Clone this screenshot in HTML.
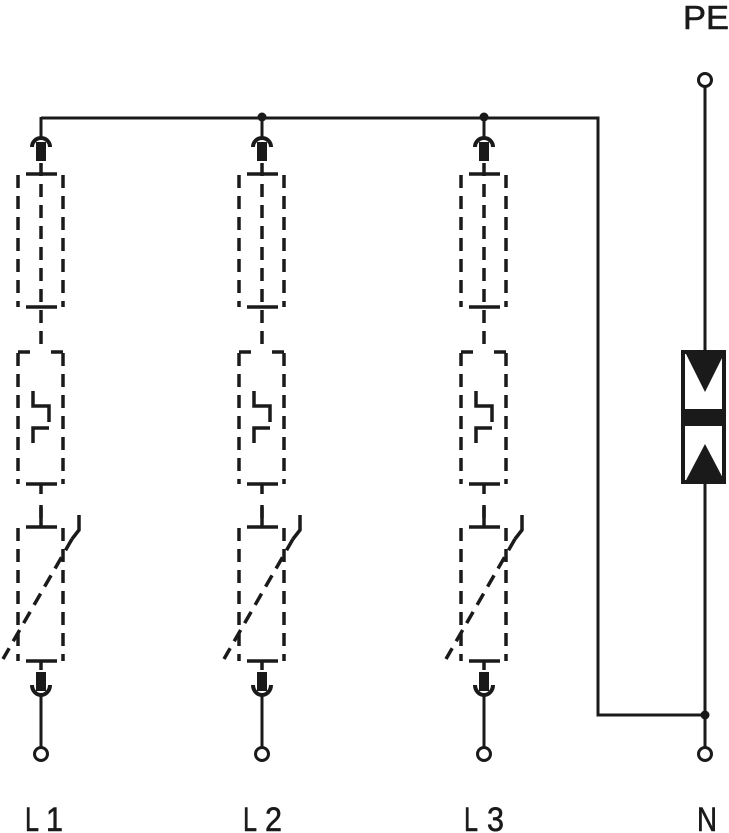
<!DOCTYPE html>
<html><head><meta charset="utf-8"><style>
html,body{margin:0;padding:0;background:#fff;}
svg{display:block;}
text{font-family:"Liberation Sans",sans-serif;fill:#1a1a1a;stroke:#1a1a1a;stroke-width:0.6;}
</style></head><body>
<svg width="729" height="833" viewBox="0 0 729 833" xmlns="http://www.w3.org/2000/svg">
<defs>
<g id="col" stroke="#1a1a1a" fill="none" stroke-width="3.5">
  <line x1="41" y1="117" x2="41" y2="138" stroke-width="3"/>
  <path d="M32 147 A9 9 0 0 1 50 147" stroke-width="4"/>
  <rect x="36" y="142" width="10" height="19" fill="#1a1a1a" stroke="none"/>
  <g stroke-dasharray="13 8">
    <line x1="18" y1="175" x2="18" y2="307"/>
    <line x1="63" y1="175" x2="63" y2="307"/>
    <line x1="41" y1="163" x2="41" y2="352"/>
  </g>
  <line x1="26" y1="174" x2="57" y2="174"/>
  <line x1="26" y1="307" x2="57" y2="307"/>
  <g stroke-dasharray="13 8">
    <path d="M18 353 V484 M63 353 V484"/>
  </g>
  <path d="M18 352 H30 M51 352 H63"/>
  <line x1="26" y1="484" x2="57" y2="484"/>
  <line x1="41" y1="484" x2="41" y2="494"/>
  <line x1="41" y1="505" x2="41" y2="518"/>
  <path d="M33 391 V406 H49 V422 M49 428 H33 V443"/>
  <line x1="26" y1="527" x2="57" y2="527"/>
  <line x1="41" y1="507" x2="41" y2="527"/>
  <g stroke-dasharray="13 8">
    <line x1="18" y1="528" x2="18" y2="661"/>
    <line x1="63" y1="528" x2="63" y2="661"/>
    <line x1="72" y1="539" x2="3" y2="659"/>
  </g>
  <path d="M72 539 L79 530 V515"/>
  <line x1="26" y1="661" x2="57" y2="661"/>
  <line x1="41" y1="661" x2="41" y2="670"/>
  <rect x="36" y="672" width="10" height="19" fill="#1a1a1a" stroke="none"/>
  <path d="M32 685 A9 10 0 0 0 50 685" stroke-width="4"/>
  <line x1="41" y1="695" x2="41" y2="747" stroke-width="3"/>
  <circle cx="41" cy="754" r="6.5" stroke-width="3"/>
</g>
</defs>
<g stroke="#1a1a1a" fill="none" stroke-width="3">
  <path d="M41 118 H598 V715 H705"/>
  <line x1="705" y1="87" x2="705" y2="747"/>
  <circle cx="705" cy="80" r="6.5" fill="#fff"/>
  <circle cx="705" cy="754" r="6.5" fill="#fff"/>
</g>
<circle cx="262" cy="117" r="4.5" fill="#1a1a1a"/>
<circle cx="484" cy="117" r="4.5" fill="#1a1a1a"/>
<circle cx="705" cy="715" r="4.5" fill="#1a1a1a"/>
<use href="#col"/>
<use href="#col" transform="translate(221,0)"/>
<use href="#col" transform="translate(443,0)"/>
<rect x="683" y="352" width="41" height="130" fill="#fff" stroke="#1a1a1a" stroke-width="4"/>
<rect x="681" y="409" width="45" height="17" fill="#1a1a1a"/>
<polygon points="684,350 726,350 705,392" fill="#1a1a1a"/>
<polygon points="684,484 726,484 705,444" fill="#1a1a1a"/>
<text x="683" y="29" font-size="33" textLength="46" lengthAdjust="spacingAndGlyphs">PE</text>
<text x="25" y="831" font-size="34" textLength="14" lengthAdjust="spacingAndGlyphs">L</text>
<text x="46" y="831" font-size="34" textLength="17" lengthAdjust="spacingAndGlyphs">1</text>
<text x="243" y="831" font-size="34" textLength="14" lengthAdjust="spacingAndGlyphs">L</text>
<text x="265" y="831" font-size="34" textLength="17" lengthAdjust="spacingAndGlyphs">2</text>
<text x="464" y="831" font-size="34" textLength="14" lengthAdjust="spacingAndGlyphs">L</text>
<text x="487" y="831" font-size="34" textLength="17" lengthAdjust="spacingAndGlyphs">3</text>
<text x="697" y="831" font-size="34" textLength="20" lengthAdjust="spacingAndGlyphs">N</text>
</svg>
</body></html>
